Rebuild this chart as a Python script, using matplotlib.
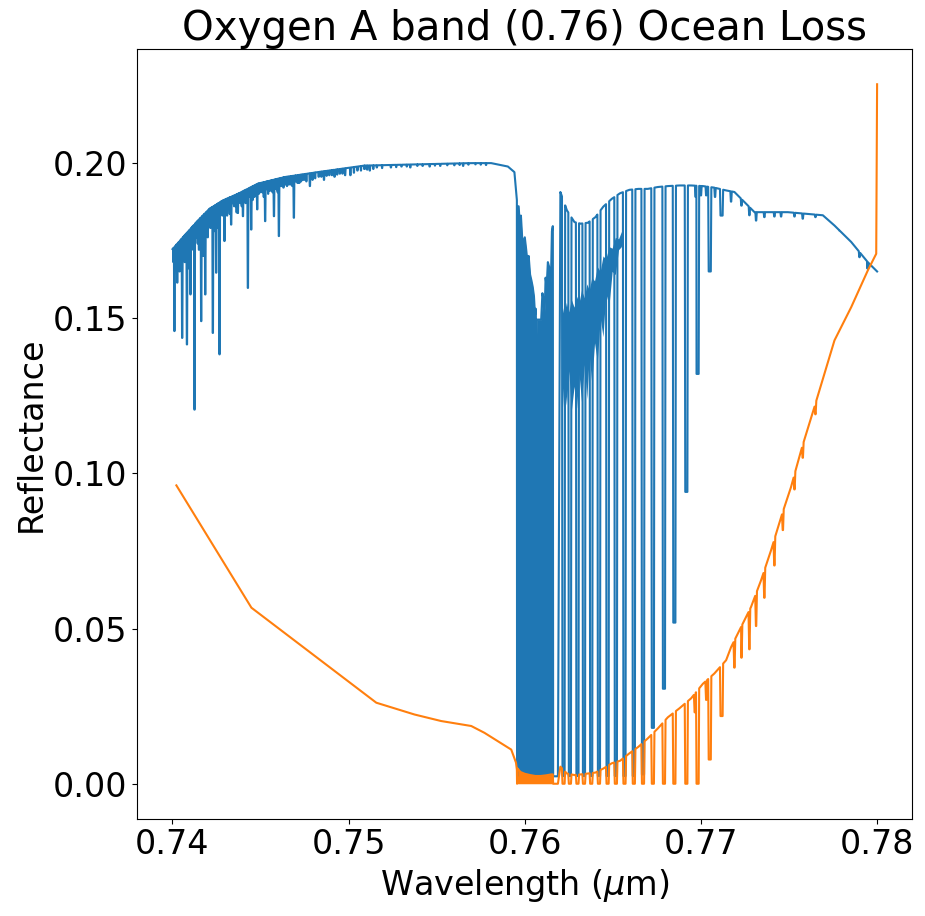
import numpy as np
import matplotlib
matplotlib.use("Agg")
import matplotlib.pyplot as plt

# ---- blue: ocean-loss reflectance, left of the band (continuum knots + lines)
blue_left_w = [0.74000, 0.74068, 0.74144, 0.74210, 0.74286, 0.74371, 0.74485, 0.74636,
               0.74825, 0.75090, 0.75393, 0.75695, 0.75809, 0.75904, 0.75941, 0.75955]
blue_left_r = [0.1722, 0.1766, 0.1814, 0.1852, 0.1879, 0.1900, 0.1933, 0.1954,
               0.1970, 0.1991, 0.1995, 0.1999, 0.1999, 0.1988, 0.1970, 0.1880]
blue_left_line_w = [0.74011, 0.74027, 0.74040, 0.74055, 0.74070, 0.74082, 0.74092, 0.74102,
                    0.74125, 0.74150, 0.74163, 0.74175, 0.74186, 0.74200, 0.74229, 0.74238,
                    0.74248, 0.74258, 0.74267, 0.74295, 0.74310, 0.74333, 0.74350, 0.74371,
                    0.74385, 0.74400, 0.74428, 0.74447, 0.74465, 0.74481, 0.74510, 0.74526,
                    0.74550, 0.74576, 0.74590, 0.74604, 0.74620, 0.74660, 0.74689, 0.74710,
                    0.74740, 0.74780, 0.74830, 0.74860, 0.74890, 0.74920, 0.74950, 0.74980,
                    0.75010, 0.75050, 0.75090, 0.75120, 0.75160, 0.75240, 0.75300, 0.75350,
                    0.75420, 0.75460, 0.75520, 0.75600, 0.75650, 0.75720, 0.75780]
blue_left_line_min = [0.1458, 0.1614, 0.1650, 0.1436, 0.1680, 0.1415, 0.1660, 0.1576,
                      0.1205, 0.1720, 0.1490, 0.1700, 0.1576, 0.1760, 0.1452, 0.1780,
                      0.1646, 0.1790, 0.1383, 0.1748, 0.1830, 0.1801, 0.1860, 0.1839,
                      0.1870, 0.1828, 0.1597, 0.1785, 0.1890, 0.1850, 0.1905, 0.1812,
                      0.1910, 0.1828, 0.1915, 0.1764, 0.1925, 0.1930, 0.1823, 0.1935,
                      0.1945, 0.1925, 0.1955, 0.1945, 0.1960, 0.1955, 0.1965, 0.1960,
                      0.1960, 0.1975, 0.1980, 0.1975, 0.1985, 0.1985, 0.1988, 0.1985,
                      0.1990, 0.1988, 0.1990, 0.1992, 0.1990, 0.1995, 0.1993]
# weak lines that thicken the jagged top edge
blue_left_weak_w = [0.74005, 0.74018, 0.74034, 0.74047, 0.74062, 0.74076, 0.74097, 0.74110,
                    0.74118, 0.74135, 0.74143, 0.74157, 0.74170, 0.74180, 0.74193, 0.74207,
                    0.74215, 0.74222, 0.74243, 0.74254, 0.74275, 0.74283, 0.74302, 0.74318,
                    0.74325, 0.74342, 0.74358, 0.74364, 0.74378, 0.74393, 0.74408, 0.74415,
                    0.74437, 0.74455, 0.74472, 0.74490, 0.74500, 0.74518, 0.74535, 0.74543,
                    0.74560, 0.74568, 0.74583, 0.74597, 0.74612, 0.74630, 0.74640, 0.74650,
                    0.74670, 0.74680, 0.74698, 0.74720, 0.74730, 0.74750, 0.74760, 0.74795,
                    0.74810, 0.74845, 0.74875, 0.74905, 0.74935, 0.74965, 0.75030, 0.75070,
                    0.75105, 0.75140, 0.75190, 0.75270, 0.75330, 0.75390, 0.75490, 0.75560,
                    0.75630, 0.75680, 0.75750]
blue_left_weak_min = [0.1680, 0.1660, 0.1700, 0.1670, 0.1720, 0.1700, 0.1730, 0.1720,
                      0.1750, 0.1760, 0.1740, 0.1770, 0.1780, 0.1760, 0.1800, 0.1810,
                      0.1790, 0.1820, 0.1830, 0.1820, 0.1840, 0.1830, 0.1850, 0.1860,
                      0.1835, 0.1870, 0.1860, 0.1840, 0.1880, 0.1860, 0.1885, 0.1870,
                      0.1890, 0.1880, 0.1895, 0.1900, 0.1905, 0.1890, 0.1915, 0.1900,
                      0.1910, 0.1905, 0.1920, 0.1905, 0.1925, 0.1920, 0.1930, 0.1925,
                      0.1930, 0.1925, 0.1940, 0.1935, 0.1940, 0.1945, 0.1940, 0.1945,
                      0.1950, 0.1955, 0.1958, 0.1960, 0.1962, 0.1965, 0.1968, 0.1975,
                      0.1978, 0.1980, 0.1983, 0.1986, 0.1988, 0.1990, 0.1991, 0.1992,
                      0.1993, 0.1994, 0.1994]

# ---- blue: R branch (solid region), envelope and saturated floor
blue_r_w = [0.75957, 0.75965, 0.75972, 0.75978, 0.75985, 0.75992, 0.76000, 0.76008,
            0.76015, 0.76022, 0.76030, 0.76038, 0.76045, 0.76052, 0.76058, 0.76062,
            0.76065, 0.76068, 0.76080, 0.76093, 0.76100, 0.76106, 0.76112, 0.76118,
            0.76124, 0.76131, 0.76138, 0.76145, 0.76150, 0.76154, 0.76159]
blue_r_top = [0.1860, 0.1860, 0.1800, 0.1830, 0.1760, 0.1740, 0.1760, 0.1720,
              0.1680, 0.1700, 0.1640, 0.1620, 0.1600, 0.1570, 0.1510, 0.1530,
              0.1400, 0.1495, 0.1495, 0.1495, 0.1580, 0.1560, 0.1500, 0.1630,
              0.1600, 0.1680, 0.1665, 0.1600, 0.1667, 0.1780, 0.1796]
blue_floor = 0.0024

# ---- blue: P branch arches and right-hand continuum
blue_p_w = [0.76188, 0.76202, 0.76239, 0.76282, 0.76317, 0.76358, 0.76401, 0.76446,
            0.76494, 0.76541, 0.76594, 0.76645, 0.76698, 0.76755, 0.76812, 0.76878,
            0.76944, 0.77011, 0.77076, 0.77143, 0.77190, 0.77304, 0.77493, 0.77692,
            0.77758, 0.77853, 0.77947, 0.78000]
blue_p_r = [0.0024, 0.1906, 0.1847, 0.1809, 0.1804, 0.1807, 0.1825, 0.1859,
            0.1884, 0.1902, 0.1913, 0.1916, 0.1916, 0.1922, 0.1925, 0.1927,
            0.1927, 0.1925, 0.1920, 0.1911, 0.1906, 0.1841, 0.1841, 0.1831,
            0.1798, 0.1745, 0.1680, 0.1650]
deep_line_w = [0.76220, 0.76256, 0.76299, 0.76336, 0.76377, 0.76421, 0.76470, 0.76517,
               0.76566, 0.76619, 0.76671, 0.76727, 0.76790, 0.76849, 0.76917, 0.76981,
               0.77050, 0.77117]
blue_deep_min = [0.0025, 0.0025, 0.0025, 0.0025, 0.0025, 0.0025, 0.0025, 0.0025,
                 0.0025, 0.0025, 0.0030, 0.0180, 0.0306, 0.0519, 0.0940, 0.1320,
                 0.1650, 0.1830]
# dense forest of weaker P-branch lines: band it covers under the arches
blue_forest_w = [0.76212, 0.76222, 0.76236, 0.76250, 0.76264, 0.76280, 0.76294, 0.76308,
                 0.76322, 0.76338, 0.76352, 0.76366, 0.76380, 0.76396, 0.76412, 0.76428,
                 0.76444, 0.76460, 0.76478, 0.76496, 0.76514, 0.76532, 0.76548, 0.76560]
blue_forest_lo = [0.1190, 0.1300, 0.1220, 0.1330, 0.1200, 0.1280, 0.1210, 0.1320,
                  0.1230, 0.1350, 0.1240, 0.1380, 0.1290, 0.1420, 0.1360, 0.1500,
                  0.1440, 0.1580, 0.1540, 0.1650, 0.1640, 0.1720, 0.1730, 0.1775]
blue_forest_hi = [0.1540, 0.1510, 0.1550, 0.1520, 0.1560, 0.1535, 0.1570, 0.1550,
                  0.1590, 0.1565, 0.1610, 0.1590, 0.1630, 0.1620, 0.1665, 0.1650,
                  0.1700, 0.1690, 0.1730, 0.1725, 0.1760, 0.1755, 0.1778, 0.1778]
blue_small_w = [0.76970, 0.77000, 0.77030, 0.77080,
                0.77171, 0.77230, 0.77275, 0.77313, 0.77360, 0.77417, 0.77455, 0.77531,
                0.77578, 0.77650, 0.77786, 0.77900, 0.77947]
blue_small_min = [0.1890, 0.1895, 0.1895, 0.1890,
                  0.1875, 0.1862, 0.1831, 0.1814, 0.1825, 0.1827, 0.1827, 0.1827,
                  0.1820, 0.1825, 0.1782, 0.1696, 0.1659]

# ---- orange: ocean-loss second spectrum
orange_left_w = [0.74022, 0.74448, 0.75157, 0.75374, 0.75525, 0.75696, 0.75771,
                 0.75923, 0.75950, 0.75955]
orange_left_r = [0.0961, 0.0567, 0.0261, 0.0223, 0.0202, 0.0186, 0.0164,
                 0.0110, 0.0068, 0.0045]
orange_r_w = [0.75957, 0.75965, 0.75975, 0.76000, 0.76030, 0.76060, 0.76090,
              0.76120, 0.76150, 0.76159]
orange_r_top = [0.0050, 0.0045, 0.0038, 0.0032, 0.0028, 0.0025, 0.0025,
                0.0027, 0.0030, 0.0030]
orange_floor = 0.0
orange_p_w = [0.76188, 0.76202, 0.76239, 0.76282, 0.76317, 0.76358, 0.76401, 0.76446,
              0.76494, 0.76541, 0.76594, 0.76645, 0.76698, 0.76755, 0.76812, 0.76878,
              0.76944, 0.77011, 0.77076, 0.77143, 0.77171, 0.77228, 0.77284, 0.77341,
              0.77398, 0.77455, 0.77511, 0.77568, 0.77644, 0.77701, 0.77758, 0.77853,
              0.77947, 0.77995, 0.78000]
orange_p_r = [0.0000, 0.0055, 0.0033, 0.0028, 0.0030, 0.0033, 0.0036, 0.0049,
              0.0066, 0.0074, 0.0098, 0.0119, 0.0146, 0.0178, 0.0214, 0.0243,
              0.0275, 0.0322, 0.0355, 0.0398, 0.0440, 0.0505, 0.0569, 0.0655,
              0.0752, 0.0859, 0.0955, 0.1073, 0.1213, 0.1321, 0.1428, 0.1535,
              0.1653, 0.1707, 0.2253]
orange_deep_min = [0.0, 0.0, 0.0, 0.0, 0.0, 0.0, 0.0, 0.0,
                   0.0, 0.0, 0.0, 0.0, 0.0, 0.0, 0.0, 0.0,
                   0.0078, 0.0218]
orange_small_w = [0.76965, 0.77030, 0.77190, 0.77230, 0.77275, 0.77313, 0.77360,
                  0.77417, 0.77465, 0.77531, 0.77578, 0.77650]
orange_small_min = [0.0230, 0.0270, 0.0374, 0.0406, 0.0433, 0.0508, 0.0599,
                    0.0703, 0.0817, 0.0948, 0.1050, 0.1190]


def spectrum(cont_w, cont_r, groups):
    # groups: (line positions, line minima, half width at continuum, half width of flat core)
    cw = np.asarray(cont_w, dtype=float)
    cr = np.asarray(cont_r, dtype=float)
    w_parts, r_parts = [cw], [cr]
    for lw, lm, hw, core in groups:
        lw = np.asarray(lw, dtype=float)
        lm = np.asarray(lm, dtype=float)
        w_parts += [lw - hw, lw - core, lw + core, lw + hw]
        r_parts += [np.interp(lw - hw, cw, cr), lm, lm, np.interp(lw + hw, cw, cr)]
    w = np.concatenate(w_parts)
    r = np.concatenate(r_parts)
    order = np.argsort(w, kind="stable")
    return w[order], r[order]


bl_w, bl_r = spectrum(blue_left_w, blue_left_r,
                      [(blue_left_line_w, blue_left_line_min, 0.00003, 0.000008),
                       (blue_left_weak_w, blue_left_weak_min, 0.00002, 0.000005)])
bp_w, bp_r = spectrum(blue_p_w, blue_p_r,
                      [(deep_line_w, blue_deep_min, 0.00009, 0.00006),
                       (blue_small_w, blue_small_min, 0.00004, 0.00001)])
blue_w = np.concatenate([bl_w, [0.75956], blue_r_w, [0.76161], bp_w])
blue_y = np.concatenate([bl_r, [blue_floor], blue_r_top, [blue_floor], bp_r])

ol_w, ol_r = spectrum(orange_left_w, orange_left_r, [])
op_w, op_r = spectrum(orange_p_w, orange_p_r,
                      [(deep_line_w, orange_deep_min, 0.00009, 0.00006),
                       (orange_small_w, orange_small_min, 0.00005, 0.00001)])
orange_w = np.concatenate([ol_w, [0.75956], orange_r_w, [0.76161], op_w])
orange_y = np.concatenate([ol_r, [orange_floor], orange_r_top, [orange_floor], op_r])

fig = plt.figure(figsize=(9.25, 9.16), dpi=100)
ax = fig.add_subplot(111)
fig.subplots_adjust(left=0.1484, right=0.9863, top=0.9462, bottom=0.1062)

ax.fill_between(blue_r_w, blue_floor, blue_r_top, color="C0", linewidth=0)
ax.fill_between(blue_forest_w, blue_forest_lo, blue_forest_hi, color="C0", linewidth=0)
ax.plot(blue_w, blue_y, color="C0")
ax.fill_between(orange_r_w, orange_floor, orange_r_top, color="C1", linewidth=0)
ax.plot(orange_w, orange_y, color="C1")

ax.set_title("Oxygen A band (0.76) Ocean Loss", fontsize=29)
ax.set_xlabel(r"Wavelength ($\mu$m)", fontsize=24)
ax.set_ylabel("Reflectance", fontsize=24)
ax.tick_params(labelsize=24)
ax.set_xticks([0.74, 0.75, 0.76, 0.77, 0.78])

fig.savefig("out.png", dpi=100)
